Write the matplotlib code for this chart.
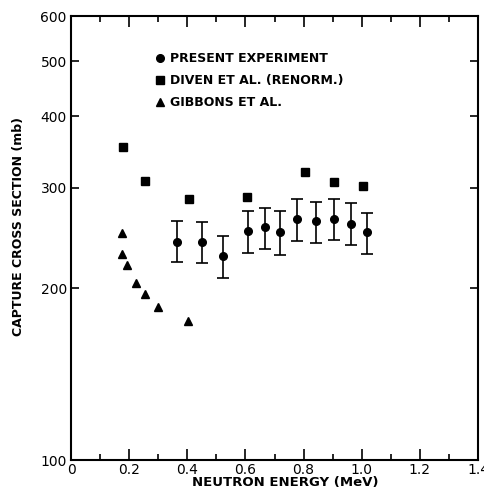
import matplotlib
matplotlib.use("Agg")
import matplotlib.pyplot as plt
import numpy as np
from matplotlib.lines import Line2D
from matplotlib.ticker import FixedLocator, MultipleLocator, NullLocator

# present experiment
present_e = [0.366, 0.452, 0.524, 0.608, 0.669, 0.719, 0.776, 0.843, 0.904, 0.962, 1.019]
present_xs = [241.3, 240.7, 227.8, 252.3, 255.7, 251.3, 264.2, 262.4, 264.8, 259.5, 250.6]
present_hi = [262.7, 261.6, 247.0, 273.5, 276.8, 272.9, 286.8, 283.6, 286.8, 282.5, 271.3]
present_lo = [222.6, 221.1, 208.7, 230.8, 234.0, 228.9, 242.0, 239.8, 243.0, 238.4, 229.6]

# Diven et al. (renorm.)
diven_e = [0.180, 0.255, 0.406, 0.605, 0.805, 0.904, 1.003]
diven_xs = [353.2, 308.3, 286.3, 288.6, 319.8, 307.1, 302.0]

# Gibbons et al.
gibbons_e = [0.174, 0.176, 0.194, 0.225, 0.255, 0.300, 0.402]
gibbons_xs = [249.6, 229.3, 219.6, 204.6, 195.4, 185.7, 175.5]

series_labels = ["PRESENT EXPERIMENT", "DIVEN ET AL. (RENORM.)", "GIBBONS ET AL."]
y_ticks = [100, 200, 300, 400, 500, 600]
x_ticks = [0, 0.2, 0.4, 0.6, 0.8, 1.0, 1.2, 1.4]
x_tick_labels = ["0", "0.2", "0.4", "0.6", "0.8", "1.0", "1.2", "1.4"]

plt.rcParams["font.family"] = ["DejaVu Sans"]

fig = plt.figure(figsize=(4.84, 4.94), dpi=100)
ax = fig.add_axes([0.1467, 0.0688, 0.8409, 0.8988])

xs = np.array(present_xs)
yerr = [xs - np.array(present_lo), np.array(present_hi) - xs]
ax.errorbar(present_e, present_xs, yerr=yerr, fmt="o", color="black", markersize=5.5,
            capsize=4, elinewidth=1.2, capthick=1.2)
ax.plot(diven_e, diven_xs, "s", color="black", markersize=5.5, linestyle="none")
ax.plot(gibbons_e, gibbons_xs, "^", color="black", markersize=6, linestyle="none")

ax.set_yscale("log")
ax.set_ylim(100, 600)
ax.set_xlim(0, 1.4)

ax.yaxis.set_major_locator(FixedLocator(y_ticks))
ax.yaxis.set_minor_locator(NullLocator())
ax.set_yticklabels([str(v) for v in y_ticks])
ax.set_xticks(x_ticks)
ax.set_xticklabels(x_tick_labels)
ax.xaxis.set_minor_locator(MultipleLocator(0.1))

ax.tick_params(axis="both", which="both", direction="in", top=True, right=True,
               labelsize=10, width=1.2)
ax.tick_params(axis="x", which="major", length=8, pad=2)
ax.tick_params(axis="x", which="minor", length=4.5)
ax.tick_params(axis="y", which="major", length=5.5, pad=3)
for spine in ax.spines.values():
    spine.set_linewidth(1.5)

ax.set_xlabel("NEUTRON ENERGY (MeV)", fontsize=9.5, fontweight="bold")
ax.xaxis.set_label_coords(0.526, -0.036)
ax.set_ylabel("CAPTURE CROSS SECTION (mb)", fontsize=9, fontweight="bold")
ax.yaxis.set_label_coords(-0.112, 0.525)

handles = [
    Line2D([], [], marker="o", color="black", linestyle="none", markersize=5.5),
    Line2D([], [], marker="s", color="black", linestyle="none", markersize=5.5),
    Line2D([], [], marker="^", color="black", linestyle="none", markersize=6),
]
ax.legend(handles, series_labels, loc="upper left", bbox_to_anchor=(0.206, 0.918),
          frameon=False, handlelength=0.8, handletextpad=0.4, labelspacing=0.7,
          borderaxespad=0, borderpad=0,
          prop={"size": 9, "weight": "bold"})

fig.savefig("out.png", dpi=100)
